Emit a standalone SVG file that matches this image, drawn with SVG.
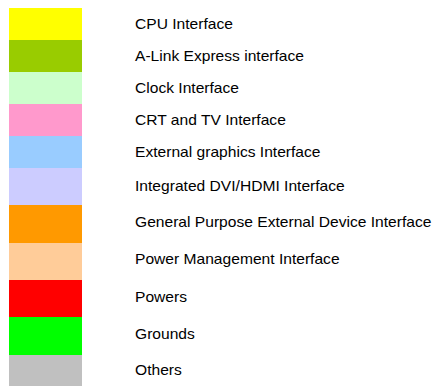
<svg xmlns="http://www.w3.org/2000/svg" width="433" height="386" viewBox="0 0 433 386">
  <style>
    .lbl { font-family: "Liberation Sans", Arial, sans-serif; font-size: 14px; fill: #000; }
  </style>
  <rect width="433" height="386" fill="#fff"/>
  <!-- colour swatches -->
  <g id="swatches">
    <rect id="sw-cpu" x="9" y="8" width="73" height="32" fill="#FFFF00"/>
    <rect id="sw-alink" x="9" y="40" width="73" height="32" fill="#99CC00"/>
    <rect id="sw-clock" x="9" y="72" width="73" height="32" fill="#CCFFCC"/>
    <rect id="sw-crt" x="9" y="104" width="73" height="32" fill="#FF99CC"/>
    <rect id="sw-extgfx" x="9" y="136" width="73" height="32" fill="#99CCFF"/>
    <rect id="sw-dvi" x="9" y="168" width="73" height="37" fill="#CCCCFF"/>
    <rect id="sw-gped" x="9" y="205" width="73" height="38" fill="#FF9900"/>
    <rect id="sw-pm" x="9" y="243" width="73" height="37" fill="#FFCC99"/>
    <rect id="sw-power" x="9" y="280" width="73" height="37" fill="#FF0000"/>
    <rect id="sw-gnd" x="9" y="317" width="73" height="38" fill="#00FF00"/>
    <rect id="sw-other" x="9" y="355" width="73" height="31" fill="#C0C0C0"/>
  </g>
  <!-- labels -->
  <g id="labels" transform="translate(135,0) scale(1.115,1)">
    <text class="lbl" x="0" y="29">CPU Interface</text>
    <text class="lbl" x="0" y="61">A-Link Express interface</text>
    <text class="lbl" x="0" y="93">Clock Interface</text>
    <text class="lbl" x="0" y="125">CRT and TV Interface</text>
    <text class="lbl" x="0" y="157">External graphics Interface</text>
    <text class="lbl" x="0" y="191">Integrated DVI/HDMI Interface</text>
    <text class="lbl" x="0" y="227">General Purpose External Device Interface</text>
    <text class="lbl" x="0" y="264">Power Management Interface</text>
    <text class="lbl" x="0" y="302">Powers</text>
    <text class="lbl" x="0" y="339">Grounds</text>
    <text class="lbl" x="0" y="375">Others</text>
  </g>
</svg>
